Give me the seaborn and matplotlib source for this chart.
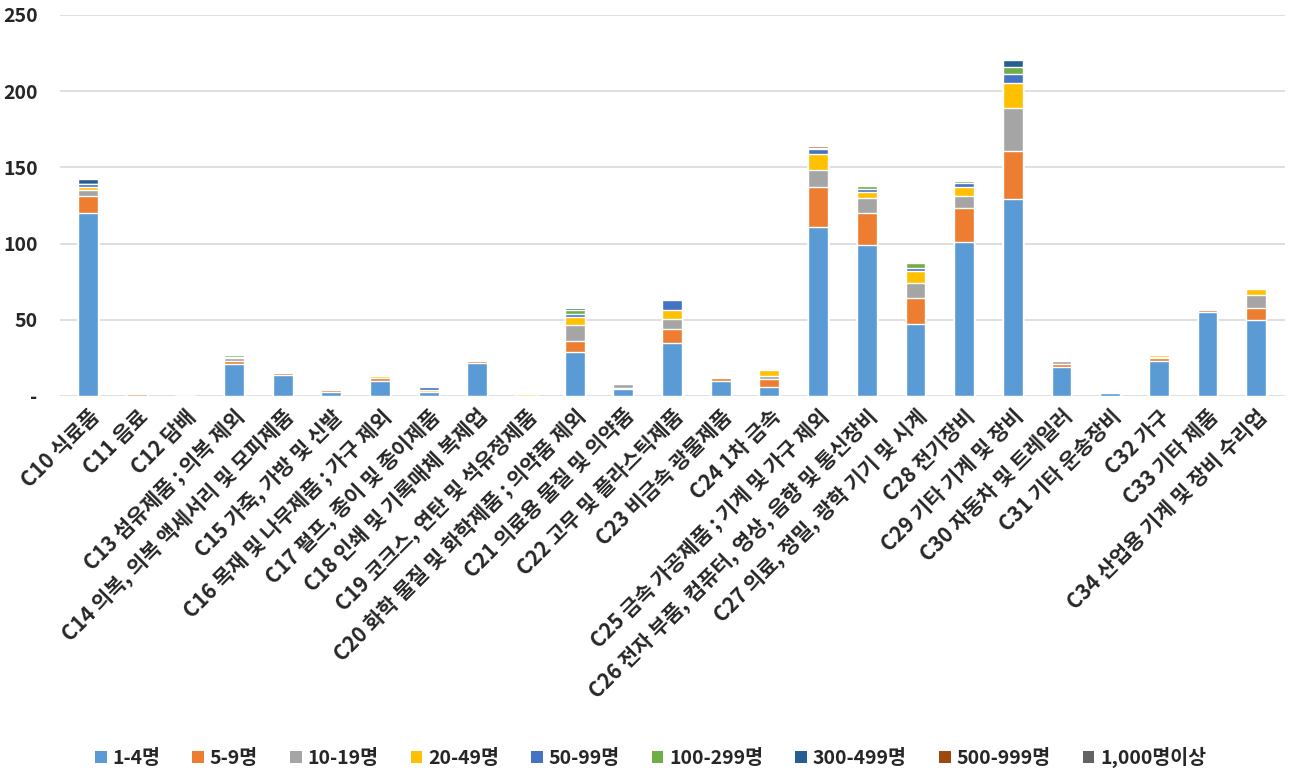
import numpy as np
import pandas as pd
import matplotlib
matplotlib.use("Agg")
import matplotlib.pyplot as plt
import seaborn as sns
from matplotlib.patches import Patch

# categories (x axis)
categories = [
    "C10 식료품", "C11 음료", "C12 담배", "C13 섬유제품 ; 의복 제외",
    "C14 의복, 의복 액세서리 및 모피제품", "C15 가죽, 가방 및 신발",
    "C16 목재 및 나무제품 ; 가구 제외", "C17 펄프, 종이 및 종이제품",
    "C18 인쇄 및 기록매체 복제업", "C19 코크스, 연탄 및 석유정제품",
    "C20 화학 물질 및 화학제품 ; 의약품 제외", "C21 의료용 물질 및 의약품",
    "C22 고무 및 플라스틱제품", "C23 비금속 광물제품", "C24 1차 금속",
    "C25 금속 가공제품 ; 기계 및 가구 제외",
    "C26 전자 부품, 컴퓨터, 영상, 음향 및 통신장비",
    "C27 의료, 정밀, 광학 기기 및 시계", "C28 전기장비",
    "C29 기타 기계 및 장비", "C30 자동차 및 트레일러", "C31 기타 운송장비",
    "C32 가구", "C33 기타 제품", "C34 산업용 기계 및 장비 수리업",
]

series_names = ["1-4명", "5-9명", "10-19명", "20-49명", "50-99명",
                "100-299명", "300-499명", "500-999명", "1,000명이상"]

s_1_4 = [120, 0, 0, 21, 13.5, 2.5, 9.5, 2.5, 21.5, 0, 29, 4.5, 35, 9.5, 6,
         111, 99, 47, 101, 129, 19, 2, 23, 55, 50]
s_5_9 = [11, 1, 0, 2, 1.5, 1.5, 2, 0, 1.5, 0, 7, 0.5, 9, 2, 5,
         26, 21, 17, 22, 31.5, 2, 0.7, 2, 1.5, 8]
s_10_19 = [4, 0, 0, 2, 0, 0, 0, 0, 0, 0, 10.5, 2.5, 6.5, 0.5, 2,
           11.5, 10, 10, 8, 28.5, 2, 0, 0.7, 0.5, 8]
s_20_49 = [2, 0, 0, 0, 0.5, 0, 1.5, 1.5, 0, 1, 5.5, 0, 6, 0, 4,
           10.5, 4, 8, 6, 16, 0.5, 0, 1.3, 1, 4]
s_50_99 = [2, 0, 0, 0.5, 0, 0, 0, 2, 0, 0, 1.5, 0, 6.5, 0, 0.6,
           3.3, 2, 2, 2.5, 6, 0, 0, 0, 0, 0]
s_100_299 = [0.3, 0, 0, 1.5, 0, 0, 0, 0, 0, 0, 3, 0, 0, 0, 0,
             0.4, 1.5, 3, 1.5, 5, 0, 0, 0, 0, 0]
s_300_499 = [3, 0, 0, 0, 0, 0, 0, 0, 0, 0, 1, 0, 0, 0, 0,
             0, 0.5, 0, 0, 4.5, 0, 0, 0, 0, 0]
s_500_999 = [1, 0, 0, 0, 0, 0, 0, 0, 0, 0, 1, 0, 0, 0, 0,
             1.5, 0, 0, 0, 0, 0, 0, 0, 0, 0]
s_1000 = [0] * 25

colors = ["#5B9BD5", "#ED7D31", "#A5A5A5", "#FFC000", "#4472C4",
          "#70AD47", "#255E91", "#9E480E", "#636363"]

all_series = [s_1_4, s_5_9, s_10_19, s_20_49, s_50_99,
              s_100_299, s_300_499, s_500_999, s_1000]

sns.set_theme(style="white")
plt.rcParams['font.family'] = ['Noto Sans CJK KR', 'DejaVu Sans']

fig = plt.figure(figsize=(13.01, 7.84), dpi=100)
ax = fig.add_axes([0.046, 0.495, 0.942, 0.486])

# stacked bars: draw cumulative totals from the top down
cum = np.cumsum(np.array(all_series, dtype=float), axis=0)
for i in range(len(all_series) - 1, -1, -1):
    df = pd.DataFrame({"cat": categories, "val": cum[i]})
    sns.barplot(data=df, x="cat", y="val", color=colors[i], saturation=1,
                width=0.41, errorbar=None, ax=ax, order=categories)

ax.set_ylim(0, 250)
ax.set_xlim(-0.58, 24.6)
ax.set_yticks([0, 50, 100, 150, 200, 250])
ax.set_yticklabels(["-", "50", "100", "150", "200", "250"],
                   fontweight="bold", fontsize=14)
ax.yaxis.grid(True, color="#D9D9D9", linewidth=1.2)
ax.set_axisbelow(True)
for s in ax.spines.values():
    s.set_visible(False)
ax.tick_params(axis="both", length=0)
ax.tick_params(axis="y", pad=16)
ax.set_xlabel("")
ax.set_ylabel("")
ax.set_xticks(range(len(categories)))
ax.set_xticklabels(categories, rotation=45, ha="right", rotation_mode="anchor",
                   fontweight="bold", fontsize=15)
ax.tick_params(axis="x", pad=7)

handles = [Patch(facecolor=c, edgecolor="none") for c in colors]
fig.legend(handles, series_names, loc="center", bbox_to_anchor=(0.5, 0.034),
           ncol=9, frameon=False, handlelength=0.6, handleheight=0.6,
           handletextpad=0.3, columnspacing=1.65,
           prop={"weight": "bold", "size": 14})

fig.savefig("out.png", dpi=100)
